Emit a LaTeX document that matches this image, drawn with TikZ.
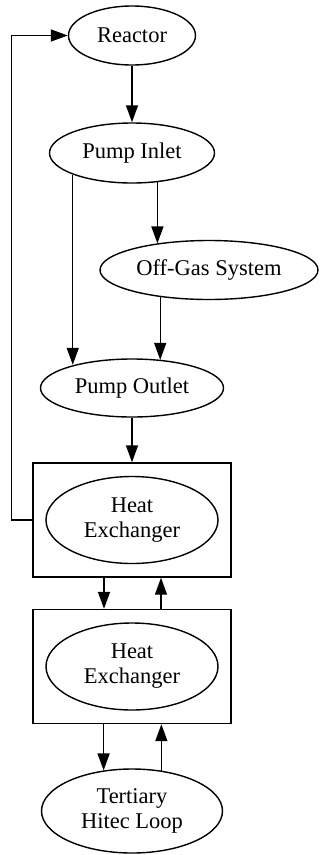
\documentclass[tikz,border=0pt]{standalone}
\usepackage{fontspec}
\setmainfont{Liberation Serif}
\usetikzlibrary{arrows.meta, positioning, shapes.geometric, calc}

\begin{document}
\begin{tikzpicture}[x=1pt, y=-1pt,
                font=\fontsize{22.5}{25}\selectfont,
                line width=1.4pt,
                part/.style={draw, ellipse, inner sep=0pt, align=center},
                hxbox/.style={draw, rectangle, minimum width=198pt, minimum height=114pt},
                flow/.style={-{Triangle[length=17pt, width=12pt]}}]
                \useasboundingbox (0,0) rectangle (320,855);

                % Components - primary loop
                \node[part, minimum width=127pt, minimum height=59pt] (reac) at (132,35.5) {Reactor};
                \node[part, minimum width=165pt, minimum height=60pt] (pin) at (132,153) {Pump Inlet};
                \node[part, minimum width=218pt, minimum height=59pt] (og) at (209,270) {Off-Gas System};
                \node[part, minimum width=183pt, minimum height=58pt] (pout) at (132,388) {Pump Outlet};

                % Heat exchangers - ellipse inside a box
                \node[hxbox] (hxa) at (132,520) {};
                \node[part, minimum width=172pt, minimum height=87pt] (hxae) at (hxa) {Heat\\Exchanger};
                \node[hxbox] (hxb) at (132,666.5) {};
                \node[part, minimum width=172pt, minimum height=87pt] (hxbe) at (hxb) {Heat\\Exchanger};

                \node[part, minimum width=181pt, minimum height=84pt] (tert) at (132,811) {Tertiary\\Hitec Loop};

                % Flows
                \draw[flow] (reac) -- (pin);
                \draw[flow] (pin.-49) -- (pin.-49 |- og.153);
                \draw[flow] (pin.200) -- (pin.200 |- pout.158);
                \draw[flow] (og.209) -- (og.209 |- pout.43);
                \draw[flow] (pout) -- (hxa);
                \draw[flow] (hxa.west) -- ++(-21,0) |- (reac.west);

                % Coupling between loops
                \draw[flow] ([xshift=-28pt]hxa.south) -- ([xshift=-28pt]hxb.north);
                \draw[flow] ([xshift=29pt]hxb.north) -- ([xshift=29pt]hxa.south);
                \draw[flow] (tert.125 |- hxb.south) -- (tert.125);
                \draw[flow] (tert.54) -- (tert.54 |- hxb.south);
\end{tikzpicture}
\end{document}
